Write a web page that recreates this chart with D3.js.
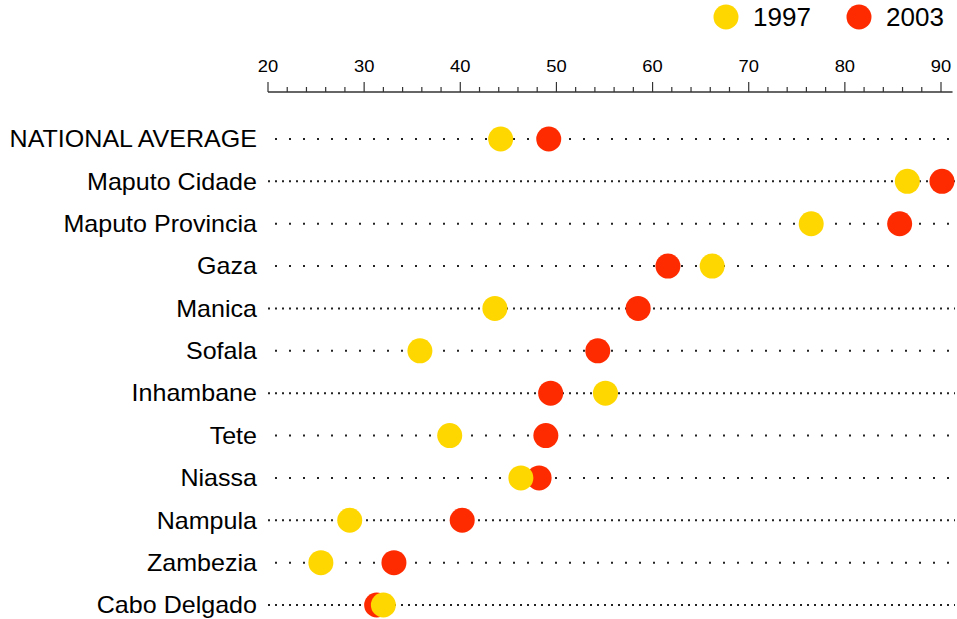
<!DOCTYPE html>
<html><head><meta charset="utf-8">
<script src="https://cdn.jsdelivr.net/npm/d3@7"></script>
<style>body{margin:0;background:#fff;} svg{display:block;font-family:"Liberation Sans",Arial,sans-serif;}</style>
</head><body><svg id="c" width="957" height="619"></svg>
<script>
const regions = ["NATIONAL AVERAGE","Maputo Cidade","Maputo Provincia","Gaza","Manica","Sofala","Inhambane","Tete","Niassa","Nampula","Zambezia","Cabo Delgado"];
const values1997 = [44.2,86.5,76.5,66.2,43.6,35.8,55.1,38.9,46.3,28.5,25.5,32.0];
const values2003 = [49.2,90.1,85.7,61.6,58.5,54.3,49.4,48.9,48.2,40.2,33.1,31.3];
const denseRows = [false,true,false,false,true,false,true,false,false,true,false,true];
const seriesNames = ["1997","2003"];
const colors = {"1997":"#FFD700","2003":"#FF2B00"};
const majorTicks = [20,30,40,50,60,70,80,90];

const svg = d3.select("#c");
const x = d3.scaleLinear().domain([20,90]).range([268,941]);
const y = d3.scalePoint().domain(regions).range([139,605]);

// axis
const axisG = svg.append("g").attr("transform","translate(0,92)");
axisG.append("line").attr("x1",x(20)).attr("x2",x(91.2)).attr("y1",0).attr("y2",0).attr("stroke","#333").attr("stroke-width",1.3);
const minor = d3.range(20,92,2);
axisG.selectAll("line.t").data(minor).join("line").attr("class","t")
  .attr("x1",d=>x(d)).attr("x2",d=>x(d)).attr("y1",0)
  .attr("y2",d=>d%10===0?-10:-5).attr("stroke","#333").attr("stroke-width",1.2);
axisG.selectAll("text").data(majorTicks).join("text")
  .attr("transform",d=>`translate(${x(d)},-20) scale(1.08,1)`).attr("text-anchor","middle")
  .attr("font-size",17).attr("fill","#000").text(d=>d);

// dotted lines
svg.selectAll("line.row").data(regions).join("line").attr("class","row")
  .attr("x1",(d,i)=>denseRows[i]?268:275).attr("x2",955)
  .attr("y1",d=>y(d)).attr("y2",d=>y(d))
  .attr("stroke","#222").attr("stroke-width",2)
  .attr("stroke-dasharray",(d,i)=>denseRows[i]?"2,5":"2,12");

// labels
svg.selectAll("text.lab").data(regions).join("text").attr("class","lab")
  .attr("transform",d=>`translate(257,${y(d)}) scale(1.09,1)`).attr("dy","0.36em").attr("text-anchor","end")
  .attr("font-size",23).attr("fill","#000").text(d=>d);

// dots: 2003 first, then 1997 on top
const r = 12.5;
svg.selectAll("circle.s2003").data(regions).join("circle").attr("class","s2003")
  .attr("cx",(d,i)=>x(values2003[i])).attr("cy",d=>y(d)).attr("r",r).attr("fill",colors["2003"]);
svg.selectAll("circle.s1997").data(regions).join("circle").attr("class","s1997")
  .attr("cx",(d,i)=>x(values1997[i])).attr("cy",d=>y(d)).attr("r",r).attr("fill",colors["1997"]);

// legend
const legX = [726,859];
const leg = svg.selectAll("g.leg").data(seriesNames).join("g").attr("class","leg")
  .attr("transform",(d,i)=>`translate(${legX[i]},17)`);
leg.append("circle").attr("r",r).attr("fill",d=>colors[d]);
leg.append("text").attr("x",27).attr("dy","0.36em").attr("font-size",26).attr("fill","#000").text(d=>d);
</script></body></html>
